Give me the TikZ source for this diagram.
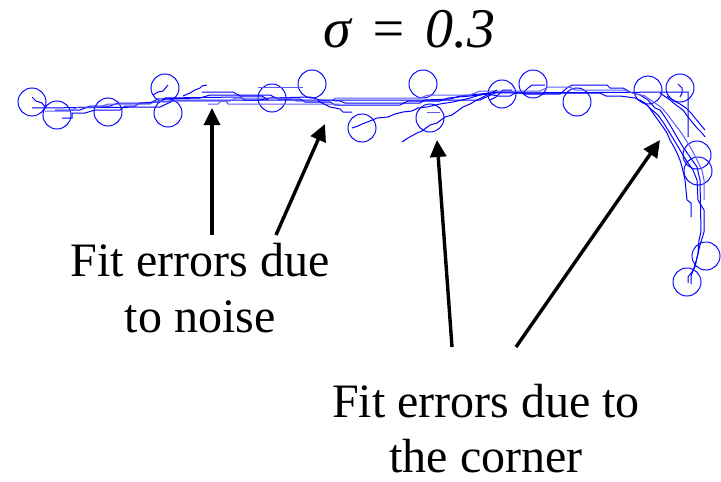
\documentclass[tikz,border=0pt]{standalone}
\usepackage{fontspec}
\setmainfont{Liberation Serif}
\usetikzlibrary{arrows.meta}
\begin{document}
\begin{tikzpicture}[x=1pt,y=-1pt,
  curve/.style={draw={rgb,255:red,0;green,0;blue,255}, line width=1pt},
  lightcurve/.style={draw={rgb,255:red,90;green,90;blue,255}, line width=1pt},
  fitcircle/.style={draw={rgb,255:red,10;green,10;blue,255}, line width=1pt},
  pointer/.style={line width=3.4pt, -{Triangle[length=17pt,width=16pt]}},
  lbl/.style={anchor=base, inner sep=0pt, font=\fontsize{48}{56}\selectfont},
  title/.style={anchor=base, inner sep=0pt, font=\fontsize{56}{64}\selectfont\itshape}]
\useasboundingbox (0,0) rectangle (721,482);

% fitted circles
\foreach \cx/\cy in {32/102, 57/115, 108/112, 165/88, 168/113, 272/98, 312/84, 362/128,
  423/84, 430/118, 502/94, 533/84, 577/102, 648/90, 680/88, 697/155, 698/171, 706/256, 687/282}
  \draw[fitcircle] (\cx,\cy) circle (14);

% trunk lines
\draw[curve] (32,108) -- (160,107) -- (175,100) -- (480,100) -- (495,93) -- (688,92) -- (688,137);
\draw[curve] (32,97) -- (36,101) -- (42,103) -- (45,107);
\draw[curve] (62,118) -- (72,118) -- (72,113) -- (85,113) -- (95,110) -- (120,110) -- (125,106)
  -- (135,106) -- (140,103) -- (160,102) -- (165,98) -- (240,97) -- (245,100) -- (260,100)
  -- (270,98) -- (310,97) -- (320,100) -- (340,101) -- (345,103) -- (420,103) -- (425,100)
  -- (450,99) -- (460,96) -- (480,94) -- (500,92) -- (520,92) -- (525,94) -- (560,94)
  -- (567,88) -- (572,85) -- (607,85) -- (610,88) -- (623,88) -- (630,92) -- (640,95)
  -- (648,100) -- (655,108) -- (660,110) -- (665,117) -- (670,125) -- (677,137) -- (683,147)
  -- (690,157) -- (697,167) -- (700,180) -- (701,232) -- (699,240) -- (698,253) -- (695,267)
  -- (692,272) -- (688,277) -- (688,283);
\draw[curve] (55,110) -- (80,110) -- (90,106) -- (110,106) -- (118,103) -- (150,103) -- (158,99)
  -- (200,98) -- (210,95) -- (270,95) -- (278,99) -- (300,99) -- (305,102) -- (330,102)
  -- (335,105) -- (400,105) -- (408,101) -- (440,101) -- (448,98) -- (470,96) -- (488,94)
  -- (498,96) -- (510,96) -- (515,93) -- (600,93) -- (606,96) -- (620,96) -- (635,98)
  -- (645,103) -- (652,110) -- (658,115) -- (663,122) -- (668,130) -- (674,140) -- (680,150)
  -- (686,160) -- (693,170) -- (697,180) -- (698,200) -- (704,210) -- (704,232) -- (700,245)
  -- (697,258) -- (694,268) -- (691,276) -- (691,284);
\draw[lightcurve] (45,111) -- (70,111) -- (78,107) -- (100,107) -- (108,104) -- (150,104)
  -- (156,101) -- (230,101) -- (236,98) -- (290,98) -- (296,101) -- (330,101) -- (336,98)
  -- (420,98) -- (428,95) -- (470,95) -- (480,91) -- (540,91) -- (548,87) -- (570,87)
  -- (575,90) -- (625,90) -- (632,93) -- (645,96) -- (655,103) -- (662,108) -- (668,115)
  -- (673,122) -- (680,131) -- (686,140) -- (692,150) -- (697,160) -- (702,170) -- (704,180)
  -- (704,200);
\draw[curve] (640,100) -- (648,106) -- (653,113) -- (658,120) -- (663,127) -- (667,133)
  -- (670,140) -- (674,147) -- (677,153) -- (680,160) -- (682,167) -- (684,175) -- (685,180)
  -- (687,200) -- (691,203) -- (691,217);
\draw[curve] (660,93) -- (670,100) -- (676,105) -- (683,110) -- (688,117) -- (692,122)
  -- (697,128) -- (702,133) -- (705,137);
\draw[curve] (667,96) -- (674,101) -- (680,104) -- (686,108) -- (691,113) -- (695,118)
  -- (700,124) -- (705,130);

% noise fragments
\draw[curve] (183,96) -- (190,93) -- (195,90) -- (200,88) -- (202,86) -- (207,85);
\draw[curve] (202,92) -- (233,92) -- (240,96) -- (262,96) -- (268,100);
\draw[lightcurve] (258,87) -- (303,87);
\draw[lightcurve] (208,104) -- (218,104) -- (221,101) -- (226,101) -- (228,104) -- (340,104);
\draw[curve] (318,101) -- (330,107) -- (340,109) -- (343,112) -- (352,112);
\draw[curve] (352,128) -- (358,126) -- (362,124) -- (370,121) -- (377,118) -- (388,117)
  -- (395,114) -- (403,112) -- (412,111) -- (418,108) -- (427,107) -- (440,104) -- (453,102)
  -- (462,100) -- (470,98) -- (480,95) -- (490,93);
\draw[curve] (402,142) -- (408,138) -- (417,133) -- (422,131) -- (430,125) -- (437,123)
  -- (445,117) -- (452,115) -- (463,107) -- (470,104) -- (477,100) -- (485,96) -- (497,90);
\draw[lightcurve] (427,112) -- (440,112);
\draw[curve] (153,95) -- (158,92) -- (163,91) -- (168,85);
\draw[curve] (490,100) -- (496,97) -- (500,93) -- (503,90) -- (512,90);
\draw[curve] (523,93) -- (528,88) -- (532,85) -- (545,85);
\draw[curve] (678,84) -- (682,88) -- (682,93) -- (680,97);

% arrows
\coordinate (a1s) at (212,235); \coordinate (a1e) at (212,108);
\coordinate (a2s) at (276,235); \coordinate (a2e) at (325,124);
\coordinate (a3s) at (452,347); \coordinate (a3e) at (437,140);
\coordinate (a4s) at (516,347); \coordinate (a4e) at (660,140);
\draw[pointer] (a1s) -- (a1e);
\draw[pointer] (a2s) -- (a2e);
\draw[pointer] (a3s) -- (a3e);
\draw[pointer] (a4s) -- (a4e);

% texts
\node[title] (sig) at (409.5,47) {σ\hspace{4pt} = \hspace{4pt}0.3};
\node[lbl] (n1) at (200,276) {Fit errors due};
\node[lbl] (n2) at (200,332) {to noise};
\node[lbl] (c1) at (486,417) {Fit errors due to};
\node[lbl] (c2) at (486,472) {the corner};
\end{tikzpicture}
\end{document}
